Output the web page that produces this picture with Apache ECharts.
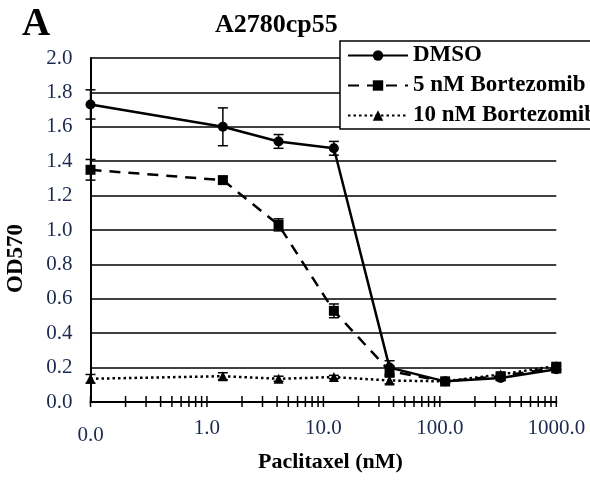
<!DOCTYPE html>
<html>
<head>
<meta charset="utf-8">
<script src="https://cdn.jsdelivr.net/npm/echarts@6/dist/echarts.min.js"></script>
<style>
  html, body { margin: 0; padding: 0; background: #fff; }
  #chart { width: 590px; height: 480px; }
</style>
</head>
<body>
<div id="chart"></div>
<script>
// Paclitaxel concentrations (nM); the untreated control sits at 0.1 and is labelled 0.0
const paclitaxel = [0.1, 1.37, 4.12, 12.3, 37, 111, 333, 1000];

// OD570 means and error bars
const dmso      = [1.73, 1.60, 1.515, 1.475, 0.20, 0.12, 0.14, 0.19];
const dmsoErr   = [0.085, 0.11, 0.04, 0.04, 0.04, 0.01, 0.015, 0.02];
const bort5     = [1.35, 1.29, 1.03, 0.53, 0.18, 0.12, 0.15, 0.20];
const bort5Err  = [0.06, 0.02, 0.035, 0.04, 0.03, 0.01, 0.01, 0.02];
const bort10    = [0.135, 0.15, 0.135, 0.145, 0.125, 0.12, 0.16, 0.21];
const bort10Err = [0.025, 0.02, 0.015, 0.01, 0.02, 0.01, 0.01, 0.02];

const seriesNames = ['DMSO', '5 nM Bortezomib', '10 nM Bortezomib'];
const xTickLabels = ['0.0', '1.0', '10.0', '100.0', '1000.0'];
const xDecades = [0.1, 1, 10, 100, 1000];

// log-axis tick marks: every decade plus 2..9 inside each decade
const xTicks = [];
xDecades.forEach((d, i) => {
  xTicks.push(d);
  if (i < xDecades.length - 1) {
    for (let k = 2; k <= 9; k++) xTicks.push(+(k * d).toPrecision(3));
  }
});

const serif = "'Liberation Serif', 'DejaVu Serif', serif";
const tickColor = '#1b2a4e';

function pairs(xs, ys) { return xs.map((x, i) => [x, ys[i]]); }
function triples(xs, ys, es) { return xs.map((x, i) => [x, ys[i], es[i]]); }

function errorBars(params, api) {
  const x = api.value(0), y = api.value(1), e = api.value(2);
  const hi = api.coord([x, y + e]);
  const lo = api.coord([x, y - e]);
  const w = 5;
  const style = { stroke: '#000', lineWidth: 1.5 };
  return {
    type: 'group',
    children: [
      { type: 'line', shape: { x1: hi[0], y1: hi[1], x2: lo[0], y2: lo[1] }, style },
      { type: 'line', shape: { x1: hi[0] - w, y1: hi[1], x2: hi[0] + w, y2: hi[1] }, style },
      { type: 'line', shape: { x1: lo[0] - w, y1: lo[1], x2: lo[0] + w, y2: lo[1] }, style }
    ]
  };
}

function tickMarks(params, api) {
  const p = api.coord([api.value(0), 0]);
  return {
    type: 'line',
    shape: { x1: p[0], y1: p[1] - 6, x2: p[0], y2: p[1] + 5 },
    style: { stroke: '#000', lineWidth: 1.5 }
  };
}

const chart = echarts.init(document.getElementById('chart'), null, { renderer: 'canvas' });

chart.setOption({
  animation: false,
  backgroundColor: '#fff',
  title: [
    { text: 'A', left: 17, top: 0,
      textStyle: { fontFamily: serif, fontWeight: 'bold', fontSize: 39, color: '#000' } },
    { text: 'A2780cp55', left: 210, top: 7,
      textStyle: { fontFamily: serif, fontWeight: 'bold', fontSize: 26, color: '#000' } }
  ],
  graphic: [
    { type: 'text', left: 5, top: 224, rotation: Math.PI / 2,
      style: { text: 'OD570', font: 'bold 23px ' + serif, fill: '#000' } },
    { type: 'text', left: 258, top: 451,
      style: { text: 'Paclitaxel (nM)', font: 'bold 22px ' + serif, fill: '#000' } }
  ],
  legend: {
    data: seriesNames,
    orient: 'vertical',
    left: 340, top: 41,
    itemWidth: 60, itemHeight: 13, itemGap: 7,
    padding: [3, 6, 2, 7],
    borderColor: '#000', borderWidth: 1.5,
    backgroundColor: '#fff',
    textStyle: { fontFamily: serif, fontWeight: 'bold', fontSize: 23, color: '#000', lineHeight: 23 },
    z: 10
  },
  grid: { left: 90.5, right: 33.7, top: 58, bottom: 78 },
  xAxis: {
    type: 'log', logBase: 10, min: 0.1, max: 1000,
    axisLine: { lineStyle: { color: '#000', width: 2 } },
    axisTick: { show: false },
    splitLine: { show: false },
    axisLabel: {
      margin: 16,
      showMinLabel: true, showMaxLabel: true,
      fontFamily: serif, fontSize: 21, color: tickColor,
      formatter: v => {
        const i = xDecades.findIndex(d => Math.abs(Math.log10(d) - Math.log10(v)) < 1e-6);
        const t = i >= 0 ? xTickLabels[i] : '';
        return i === 0 ? '{low|' + t + '}' : '{norm|' + t + '}';
      },
      rich: {
        norm: { fontFamily: serif, fontSize: 21, color: tickColor, lineHeight: 21 },
        low: { fontFamily: serif, fontSize: 21, color: tickColor, lineHeight: 35 }
      }
    }
  },
  yAxis: {
    type: 'value', min: 0, max: 2, interval: 0.2,
    axisLine: { show: true, lineStyle: { color: '#000', width: 2 } },
    axisTick: { show: false },
    splitLine: { lineStyle: { color: '#000', width: 1.5 } },
    axisLabel: {
      margin: 18, fontFamily: serif, fontSize: 21, color: tickColor,
      formatter: v => v.toFixed(1)
    }
  },
  series: [
    { type: 'custom', name: 'ticks', silent: true, clip: false, z: 3,
      renderItem: tickMarks, data: xTicks.map(v => [v, 0]) },
    { type: 'line', name: seriesNames[0], data: pairs(paclitaxel, dmso),
      symbol: 'circle', symbolSize: 10,
      lineStyle: { color: '#000', width: 2.5, type: 'solid' },
      itemStyle: { color: '#000' }, z: 4 },
    { type: 'line', name: seriesNames[1], data: pairs(paclitaxel, bort5),
      symbol: 'rect', symbolSize: 10,
      lineStyle: { color: '#000', width: 2.5, type: [11, 8] },
      itemStyle: { color: '#000' }, z: 4 },
    { type: 'line', name: seriesNames[2], data: pairs(paclitaxel, bort10),
      symbol: 'triangle', symbolSize: 10,
      lineStyle: { color: '#000', width: 2.5, type: [2.5, 3] },
      itemStyle: { color: '#000' }, z: 4 },
    { type: 'custom', name: 'dmsoErr', silent: true, clip: false, z: 5,
      renderItem: errorBars, data: triples(paclitaxel, dmso, dmsoErr) },
    { type: 'custom', name: 'bort5Err', silent: true, clip: false, z: 5,
      renderItem: errorBars, data: triples(paclitaxel, bort5, bort5Err) },
    { type: 'custom', name: 'bort10Err', silent: true, clip: false, z: 5,
      renderItem: errorBars, data: triples(paclitaxel, bort10, bort10Err) }
  ]
});
</script>
</body>
</html>
